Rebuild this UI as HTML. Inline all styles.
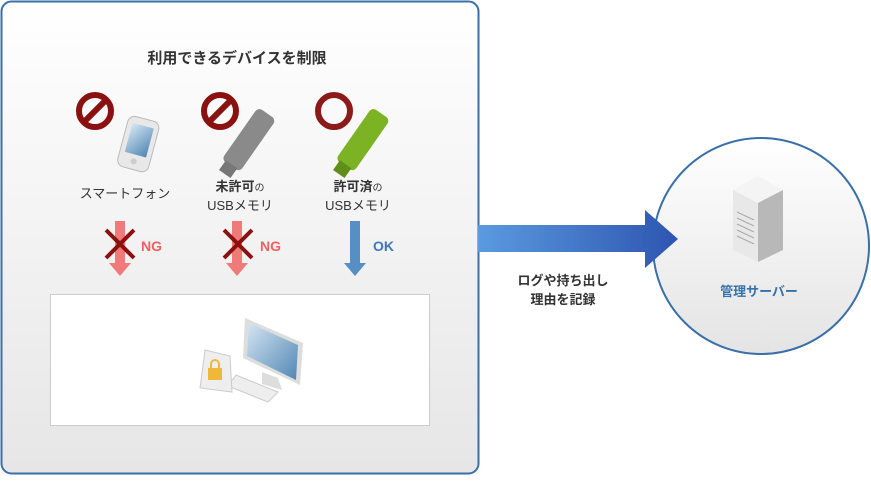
<!DOCTYPE html>
<html><head><meta charset="utf-8"><style>
body{margin:0;width:871px;height:476px;background:#fff;overflow:hidden}
text{font-family:"Liberation Sans","Noto Sans CJK JP",sans-serif}
</style></head><body>
<svg width="871" height="476" viewBox="0 0 871 476" xmlns="http://www.w3.org/2000/svg">
<defs>
<linearGradient id="pg" x1="0" y1="0" x2="0" y2="1"><stop offset="0" stop-color="#ffffff"/><stop offset="1" stop-color="#e6e6e6"/></linearGradient>
<linearGradient id="cg" x1="0" y1="0" x2="0" y2="1"><stop offset="0" stop-color="#ffffff"/><stop offset="1" stop-color="#e4e4e4"/></linearGradient>
<linearGradient id="ag" x1="0" y1="0" x2="1" y2="0"><stop offset="0" stop-color="#5b9ae0"/><stop offset="1" stop-color="#2d55b0"/></linearGradient>
<linearGradient id="scr" x1="0" y1="0" x2="1" y2="1"><stop offset="0" stop-color="#d6e6f2"/><stop offset="1" stop-color="#4f86b4"/></linearGradient>
</defs>
<rect x="1.5" y="1.5" width="477" height="472" rx="10" fill="url(#pg)" stroke="#3a6fa8" stroke-width="2"/>
<text x="237" y="63" font-size="15" font-weight="bold" fill="#333" text-anchor="middle">利用できるデバイスを制限</text>
<g fill="none" stroke="#8b1111" stroke-width="6">
<circle cx="95" cy="111" r="16"/><line x1="84" y1="122" x2="106" y2="100"/>
<circle cx="220" cy="111" r="16"/><line x1="209" y1="122" x2="231" y2="100"/>
<circle cx="334" cy="111" r="16" stroke="#8b1a1a"/>
</g>
<g transform="translate(138,145) rotate(15)"><rect x="-16" y="-27" width="32" height="52" rx="7" fill="#e8e8e8" stroke="#bbb"/><rect x="-11" y="-20" width="22" height="30" fill="url(#scr)"/><circle cx="0" cy="17" r="3" fill="#ccc"/></g>
<g transform="translate(250,138) rotate(-55)"><rect x="-34" y="-11" width="64" height="22" rx="5" fill="#8a8a8a"/><rect x="-44" y="-7" width="12" height="14" fill="#777"/></g>
<g transform="translate(364,138) rotate(-55)"><rect x="-34" y="-11" width="64" height="22" rx="5" fill="#7cb325"/><rect x="-44" y="-7" width="12" height="14" fill="#5f8f18"/></g>
<text x="125" y="198" font-size="13" fill="#333" text-anchor="middle">スマートフォン</text>
<text x="240" y="191" font-size="13" font-weight="bold" fill="#333" text-anchor="middle">未許可<tspan font-size="10" font-weight="normal">の</tspan></text>
<text x="240" y="210" font-size="13" fill="#333" text-anchor="middle">USBメモリ</text>
<text x="358" y="191" font-size="13" font-weight="bold" fill="#333" text-anchor="middle">許可済<tspan font-size="10" font-weight="normal">の</tspan></text>
<text x="358" y="210" font-size="13" fill="#333" text-anchor="middle">USBメモリ</text>
<g fill="#f07a7a"><rect x="115" y="221" width="10" height="44"/><polygon points="109,263 131,263 120,276"/>
<rect x="232" y="221" width="10" height="44"/><polygon points="226,263 248,263 237,276"/></g>
<rect x="350" y="221" width="10" height="44" fill="#558fc4"/><polygon points="344,263 366,263 355,276" fill="#558fc4"/>
<g stroke="#8b1111" stroke-width="4"><line x1="106" y1="230" x2="134" y2="258"/><line x1="134" y1="230" x2="106" y2="258"/>
<line x1="224" y1="230" x2="252" y2="258"/><line x1="252" y1="230" x2="224" y2="258"/></g>
<text x="141" y="251" font-size="14" font-weight="bold" fill="#f06060">NG</text>
<text x="260" y="251" font-size="14" font-weight="bold" fill="#f06060">NG</text>
<text x="373" y="251" font-size="14" font-weight="bold" fill="#3a78b8">OK</text>
<rect x="50.5" y="294.5" width="379" height="131" fill="#fff" stroke="#ccc"/>
<g><polygon points="245,318 303,343 300,385 243,358" fill="#ddd"/><polygon points="249,323 298,345 296,380 247,356" fill="url(#scr)"/>
<polygon points="262,372 278,378 282,390 262,384" fill="#ddd"/>
<polygon points="236,375 278,392 268,402 228,386" fill="#eee" stroke="#ccc"/>
<polygon points="205,350 230,356 232,392 200,388" fill="#eee" stroke="#ccc"/>
<rect x="208" y="368" width="14" height="12" fill="#f0b83a"/><path d="M211 368v-4a4 4 0 0 1 8 0v4" fill="none" stroke="#f0b83a" stroke-width="2"/></g>
<text x="563" y="285" font-size="13" font-weight="bold" fill="#333" text-anchor="middle">ログや持ち出し</text>
<text x="563" y="304" font-size="13" font-weight="bold" fill="#333" text-anchor="middle">理由を記録</text>
<circle cx="761" cy="246" r="108" fill="url(#cg)" stroke="#3a6fa8" stroke-width="2"/>
<polygon points="478,225 645,225 645,210 678,239 645,268 645,252 478,252" fill="url(#ag)"/>
<polygon points="733,190 758,176 783,190 758,203" fill="#f4f4f4"/>
<polygon points="733,190 758,203 758,262 733,250" fill="#e8e8e8"/>
<polygon points="758,203 783,190 783,250 758,262" fill="#b8b8b8"/>
<g stroke="#aaa" stroke-width="1"><line x1="737" y1="212" x2="754" y2="220"/><line x1="737" y1="218" x2="754" y2="226"/><line x1="737" y1="224" x2="754" y2="232"/><line x1="737" y1="230" x2="754" y2="238"/><line x1="737" y1="236" x2="754" y2="244"/></g>
<text x="759" y="296" font-size="13" font-weight="bold" fill="#3a70a8" text-anchor="middle">管理サーバー</text>
</svg>
</body></html>
